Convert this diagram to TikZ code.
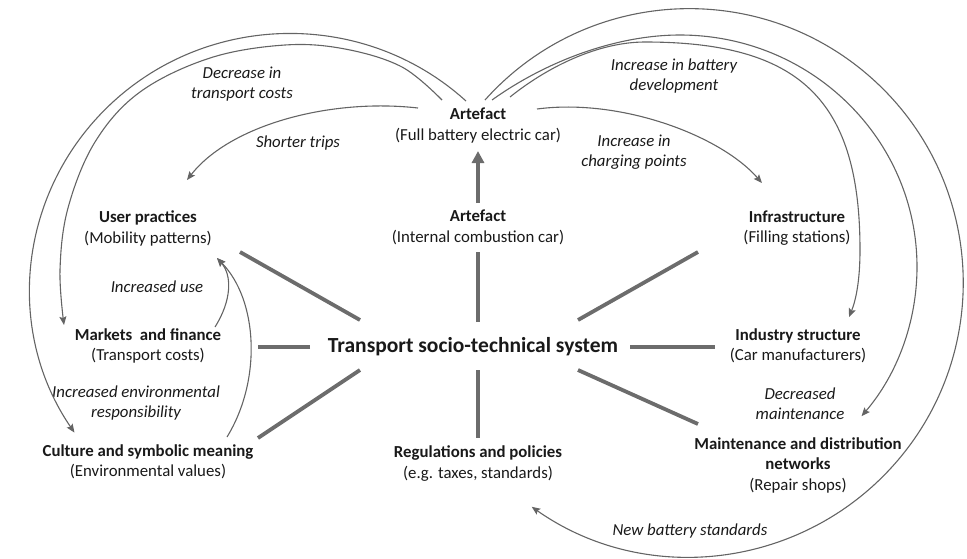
\documentclass[tikz,border=0pt]{standalone}
\usepackage{fontspec}
\setmainfont{Carlito}
\usetikzlibrary{arrows.meta}
\definecolor{spokecol}{RGB}{108,108,108}
\definecolor{flowcol}{RGB}{100,100,100}
\definecolor{textcol}{RGB}{25,25,25}
\tikzset{
  box/.style={align=center, inner sep=0pt, text=textcol, font=\fontsize{16.8}{20.5}\selectfont},
  lbl/.style={align=center, inner sep=0pt, text=textcol, font=\fontsize{16.8}{20}\selectfont\itshape},
  hubbox/.style={inner sep=0pt, text=textcol, font=\fontsize{21.5}{24}\selectfont\bfseries},
  spoke/.style={draw=spokecol, line width=3.8pt},
  flow/.style={draw=flowcol, line width=1.1pt, -{Stealth[length=8.5pt,width=7pt,inset=1.5pt]}},
}
\begin{document}
\begin{tikzpicture}[x=1pt,y=1pt]
\useasboundingbox (0,0) rectangle (967,-558);

% subsystem nodes
\node[box] (bev)   at (478,-125.5) {\textbf{Artefact}\\(Full battery electric car)};
\node[box] (ice)   at (478,-227.5) {\textbf{Artefact}\\(Internal combustion car)};
\node[box] (user)  at (148,-228.5) {\textbf{User practices}\\(Mobility patterns)};
\node[box] (infra) at (797,-228)   {\textbf{Infrastructure}\\(Filling stations)};
\node[box] (mkt)   at (148,-346)   {\textbf{Markets\ \ and finance}\\(Transport costs)};
\node[hubbox] (hub) at (473,-347)  {Transport socio-technical system};
\node[box] (ind)   at (798,-346)   {\textbf{Industry structure}\\(Car manufacturers)};
\node[box] (cult)  at (148,-462)   {\textbf{Culture and symbolic meaning}\\(Environmental values)};
\node[box] (reg)   at (478,-463.5) {\textbf{Regulations and policies}\\(e.g. taxes, standards)};
\node[box] (maint) at (798,-465)   {\textbf{Maintenance and distribution}\\\textbf{networks}\\(Repair shops)};

% effect labels
\node[lbl] (l1) at (242,-84)  {Decrease in\\transport costs};
\node[lbl] (l2) at (298,-143) {Shorter trips};
\node[lbl] (l3) at (634,-152) {Increase in\\charging points};
\node[lbl] (l4) at (674,-76)  {Increase in battery\\development};
\node[lbl] (l5) at (157,-287) {Increased use};
\node[lbl] (l6) at (136,-403) {Increased environmental\\responsibility};
\node[lbl] (l7) at (800,-404) {Decreased\\maintenance};
\node[lbl] (l8) at (690,-531) {New battery standards};

% spoke end points around the hub
\coordinate (hU) at (478,-322); \coordinate (iceD) at (478,-252);
\coordinate (hD) at (478,-370); \coordinate (regU) at (478,-438);
\coordinate (hL) at (310,-347); \coordinate (mktR) at (258,-347);
\coordinate (hR) at (630,-347); \coordinate (indL) at (715,-347);
\coordinate (hUL) at (360,-320); \coordinate (userR) at (240,-252);
\coordinate (hDL) at (360,-370); \coordinate (cultR) at (258,-438);
\coordinate (hUR) at (578,-320); \coordinate (infraL) at (698,-252);
\coordinate (hDR) at (578,-370); \coordinate (maintL) at (698,-424);
\coordinate (iceU) at (478,-203); \coordinate (bevD) at (478,-151);

\draw[spoke] (hU) -- (iceD);
\draw[spoke] (hD) -- (regU);
\draw[spoke] (hL) -- (mktR);
\draw[spoke] (hR) -- (indL);
\draw[spoke] (hUL) -- (userR);
\draw[spoke] (hDL) -- (cultR);
\draw[spoke] (hUR) -- (infraL);
\draw[spoke] (hDR) -- (maintL);
\draw[spoke, -{Triangle[length=12pt,width=12pt]}] (iceU) -- (bevD);

% flow ends
\coordinate (bevA) at (418,-108); \coordinate (userT) at (187,-180);
\coordinate (bevB) at (537,-109); \coordinate (infraT) at (762,-183);
\coordinate (bevC) at (442,-100);
\coordinate (bevD2) at (466,-101);
\coordinate (bevE) at (485,-100);
\coordinate (bevF) at (492,-100);
\coordinate (bevG) at (510,-97);
\coordinate (mktT) at (215,-327); \coordinate (cultT) at (227,-437);
\coordinate (userB) at (217,-258);

% effects of the full battery electric car
\draw[flow] (bevA) .. controls (330,-98) and (230,-125) .. (userT);
\draw[flow] (bevB) .. controls (620,-98) and (720,-135) .. (infraT);
\draw[flow] plot[smooth, tension=0.6] coordinates {(bevC) (402,-67) (345,-49) (285,-45) (210,-58) (140,-92) (95,-142) (68,-208) (60,-270) (64,-325)};
\draw[flow] (bevD2) arc[start angle=47.4, end angle=214, x radius=260pt, y radius=256pt];
\draw[flow] (bevE) arc[start angle=138.2, end angle=-125.1, radius=274pt];
\draw[flow] (bevF) .. controls (545,-62) and (615,-35) .. (680,-35)
  arc[start angle=90, end angle=-40, x radius=237pt, y radius=232pt];
\draw[flow] (bevG) .. controls (550,-65) and (600,-42) .. (645,-42)
  .. controls (800,-42) and (860,-100) .. (860,-250)
  .. controls (860,-280) and (856,-300) .. (849,-317);

% feedback into user practices
\draw[flow] (mktT) .. controls (232,-300) and (232,-275) .. (userB);
\draw[flow] (cultT) .. controls (262,-380) and (258,-300) .. (userB);
\end{tikzpicture}
\end{document}
